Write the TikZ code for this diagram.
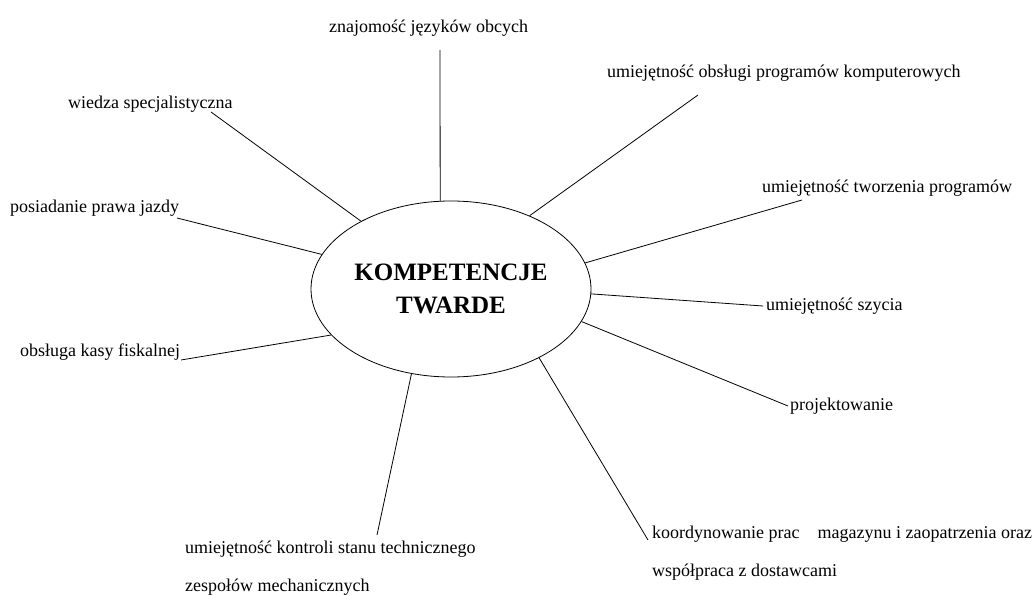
\documentclass[tikz,border=0pt]{standalone}
\usepackage{fontspec}
\setmainfont{Liberation Serif}
\usepackage{xcolor}
\usepackage{tikz}
\usetikzlibrary{shapes.geometric}
\tikzset{
	skill/.style = {anchor=base west, inner sep=0pt, align=left, font=\fontsize{18}{38}\selectfont},
	hub/.style = {ellipse, draw=black, line width=0.8pt, minimum width=280pt, minimum height=176pt, inner sep=0pt, align=center, font=\fontsize{25}{33}\selectfont\bfseries},
	spoke/.style = {draw=black, line width=0.8pt},
}

\begin{document}
\begin{tikzpicture}[x=1pt, y=-1pt]
	\useasboundingbox (0,0) rectangle (1032,596);

	\node[hub] (kt) at (451,289) {KOMPETENCJE\\TWARDE};

	\node[skill] (s1) at (329,33) {znajomość języków obcych};
	\node[skill] (s2) at (607,78) {umiejętność obsługi programów komputerowych};
	\node[skill] (s3) at (68,109) {wiedza specjalistyczna};
	\node[skill] (s4) at (762,192) {umiejętność tworzenia programów};
	\node[skill] (s5) at (10,212) {posiadanie prawa jazdy};
	\node[skill] (s6) at (766,310) {umiejętność szycia};
	\node[skill] (s7) at (20,356) {obsługa kasy fiskalnej};
	\node[skill] (s8) at (790,410) {projektowanie};
	% two-line labels: base is the last line
	\node[skill] (s9) at (652,576) {koordynowanie prac\quad magazynu i zaopatrzenia oraz\\współpraca z dostawcami};
	\node[skill] (s10) at (185,591) {umiejętność kontroli stanu technicznego\\zespołów mechanicznych};

	% free ends of the spokes
	\coordinate (c1) at (440,50);
	\coordinate (c2) at (698,95);
	\coordinate (c3) at (211,112);
	\coordinate (c4) at (802,200);
	\coordinate (c5) at (177,218);
	\coordinate (c6) at (763,306);
	\coordinate (c7) at (181,360);
	\coordinate (c8) at (788,406);
	\coordinate (c9) at (648,540);
	\coordinate (c10) at (377,535);

	\path (c1) edge[spoke] (kt.97);
	\path (c2) edge[spoke] (kt.43.5);
	\path (c3) edge[spoke] (kt.143);
	\path (c4) edge[spoke] (kt.11.6);
	\path (c5) edge[spoke] (kt.165.2);
	\path (c6) edge[spoke] (kt.-2.5);
	\path (c7) edge[spoke] (kt.201.1);
	\path (c8) edge[spoke] (kt.-14.1);
	\path (c9) edge[spoke] (kt.-38.6);
	\path (c10) edge[spoke] (kt.245.7);
\end{tikzpicture}
\end{document}
